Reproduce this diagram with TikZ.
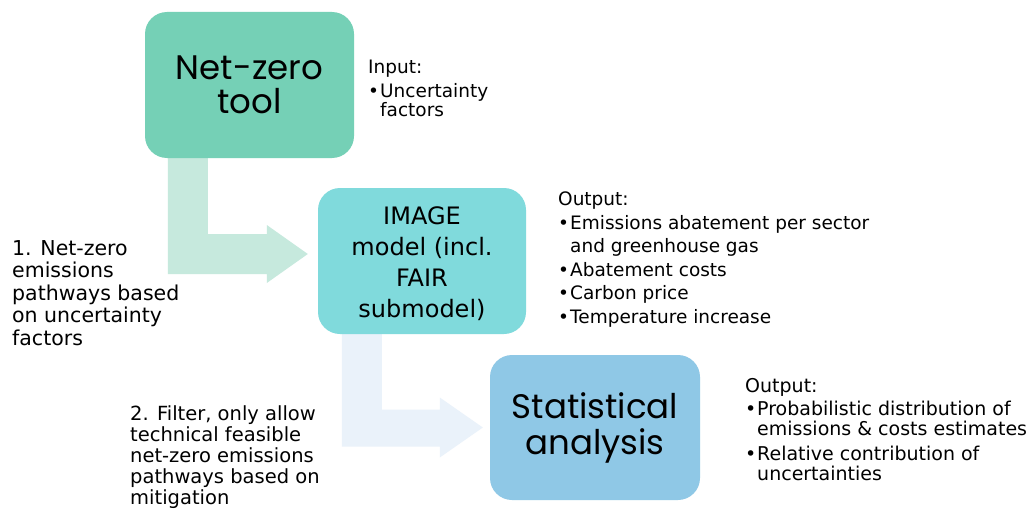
\documentclass[tikz,border=0pt]{standalone}
\usepackage{fontspec}
\setmainfont{DejaVu Sans}
\newfontfamily\boxfont{Poppins}
\usetikzlibrary{calc}
\definecolor{boxA}{HTML}{75D0B6}
\definecolor{boxB}{HTML}{80DADC}
\definecolor{boxC}{HTML}{8FC8E6}
\definecolor{arrA}{HTML}{C6E9DD}
\definecolor{arrB}{HTML}{EAF2FA}
\pgfdeclarelayer{bg}
\pgfsetlayers{bg,main}
\tikzset{
  mbox/.style={rectangle, rounded corners=22pt, draw=none, align=center, inner sep=0pt},
  lbl/.style={anchor=north west, align=left, inner sep=0pt, text=black},
}
\newcommand{\bul}{\makebox[12pt][l]{•}}
\begin{document}
\begin{tikzpicture}[x=1pt,y=-1pt]
\useasboundingbox (0,0) rectangle (1030,511);
% boxes
\node[mbox, fill=boxA, minimum width=209pt, minimum height=146pt,
  font=\boxfont\fontsize{34}{34}\selectfont] (n1) at (249.5,85) {Net-zero\\tool};
\node[mbox, fill=boxB, minimum width=208pt, minimum height=146pt,
  font=\fontsize{24}{31}\selectfont] (n2) at (422,261) {\rule{0pt}{24pt}IMAGE\\model (incl.\\FAIR\\submodel)};
\node[mbox, fill=boxC, minimum width=210pt, minimum height=145pt,
  font=\boxfont\fontsize{34}{36}\selectfont] (n3) at (595,427.5) {Statistical\\analysis};
% arrows
\coordinate (t1) at ($(n2.west)+(-10,-7)$);
\coordinate (t2) at ($(n3.west)+(-7,0)$);
\begin{pgfonlayer}{bg}
\fill[white] (0,0) rectangle (1030,511);
\fill[arrA] ($(n1.south west)+(23,0)$) -- ++(40,0) |- ($(t1)+(-41,-20)$) -- ++(0,-9) -- (t1)
  -- ++(-41,29) -- ++(0,-9) -| ($(n1.south west)+(23,0)$) -- cycle;
\fill[arrB] ($(n2.south west)+(24,0)$) -- ++(40,0) |- ($(t2)+(-43,-18)$) -- ++(0,-12) -- (t2)
  -- ++(-43,30) -- ++(0,-11) -| ($(n2.south west)+(24,0)$) -- cycle;
\end{pgfonlayer}
% labels
\node[lbl, font=\fontsize{18.5}{19}\selectfont] (in1) at (368,60)
  {Input:\\[5pt]\bul Uncertainty\\\hspace*{12pt}factors};
\node[lbl, font=\fontsize{18.5}{23.5}\selectfont] (out1) at (558,192)
  {Output:\\\bul Emissions abatement per sector\\\hspace*{12pt}and greenhouse gas\\\bul Abatement costs\\\bul Carbon price\\\bul Temperature increase};
\node[lbl, font=\fontsize{19}{20}\selectfont] (out2) at (745,378)
  {Output:\\[3pt]\bul Probabilistic distribution of\\\hspace*{12pt}emissions \& costs estimates\\[5pt]\bul Relative contribution of\\\hspace*{12pt}uncertainties};
\node[lbl, font=\fontsize{20.5}{22.5}\selectfont] (s1) at (12,240)
  {1. Net-zero\\emissions\\pathways based\\on uncertainty\\factors};
\node[lbl, font=\fontsize{19.5}{21.2}\selectfont] (s2) at (130,405)
  {2. Filter, only allow\\technical feasible\\net-zero emissions\\pathways based on\\mitigation};
\end{tikzpicture}
\end{document}
